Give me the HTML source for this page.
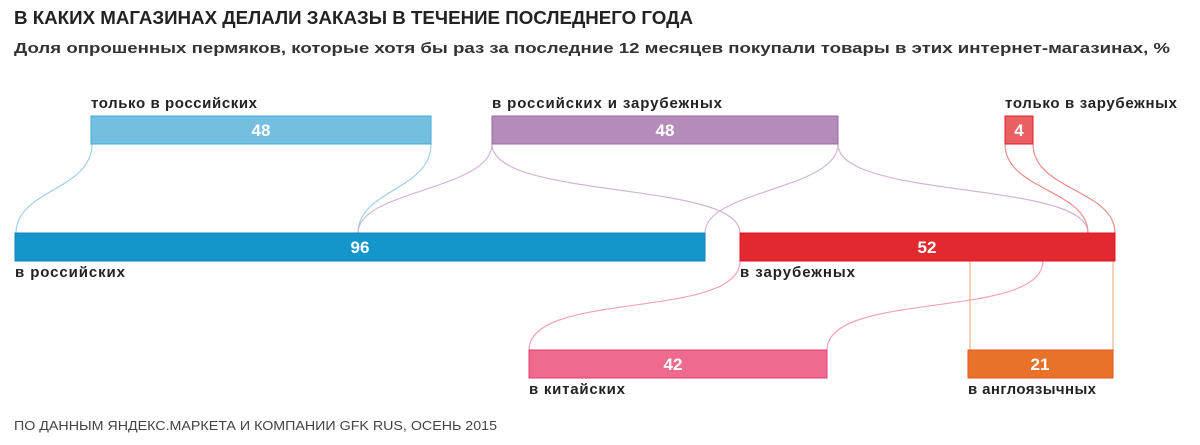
<!DOCTYPE html>
<html><head><meta charset="utf-8"><style>
body{margin:0;width:1200px;height:445px;background:#fff;overflow:hidden;font-family:"Liberation Sans","DejaVu Sans",sans-serif;color:#1a1a1a}
svg{position:absolute;left:0;top:0}
</style></head><body>
<svg width="1200" height="445" xmlns="http://www.w3.org/2000/svg" font-family="Liberation Sans, DejaVu Sans, sans-serif">
<text x="14" y="24" font-size="18" font-weight="bold" fill="#222" textLength="679" lengthAdjust="spacingAndGlyphs">В КАКИХ МАГАЗИНАХ ДЕЛАЛИ ЗАКАЗЫ В ТЕЧЕНИЕ ПОСЛЕДНЕГО ГОДА</text>
<text x="14" y="53" font-size="15" font-weight="bold" fill="#333" textLength="1156" lengthAdjust="spacingAndGlyphs">Доля опрошенных пермяков, которые хотя бы раз за последние 12 месяцев покупали товары в этих интернет-магазинах, %</text>
<g fill="none" stroke-width="1.2">
<path d="M92,144 C92,190 16,190 16,233" stroke="#9fd0e8"/>
<path d="M431,144 C431,190 358,190 358,233" stroke="#9fd0e8"/>
<path d="M492,144 C492,190 358,190 358,233" stroke="#d3b6d6"/>
<path d="M492,144 C492,200 740,180 740,233" stroke="#d3b6d6"/>
<path d="M838,144 C838,190 705,190 705,233" stroke="#d3b6d6"/>
<path d="M838,144 C838,200 1088,180 1088,233" stroke="#d3b6d6"/>
<path d="M1005,144 C1005,190 1088,190 1088,233" stroke="#ef8c8c"/>
<path d="M1033,144 C1033,190 1115,190 1115,233" stroke="#ef8c8c"/>
<path d="M740,261 C740,320 529,290 529,350" stroke="#f2a3b6"/>
<path d="M1043,261 C1043,320 827,290 827,350" stroke="#f2a3b6"/>
<path d="M970,261 L970,350" stroke="#f0b07e"/>
<path d="M1113,261 L1113,350" stroke="#f0b07e"/>
</g>
<rect x="91" y="116" width="340" height="28" fill="#74bfdf" stroke="#3fa8d8"/>
<rect x="492" y="116" width="346" height="28" fill="#b48cba" stroke="#9a6aa3"/>
<rect x="1005" y="116" width="28" height="28" fill="#e95f62" stroke="#e21b2b"/>
<rect x="15" y="233" width="690" height="28" fill="#1496cb" stroke="#0c86bd"/>
<rect x="740" y="233" width="375" height="28" fill="#e1292f" stroke="#e0102a"/>
<rect x="529" y="350" width="298" height="28" fill="#ee6a8e" stroke="#e23f70"/>
<rect x="968" y="350" width="145" height="28" fill="#e8722a" stroke="#e3561f"/>
<g font-size="17" font-weight="bold" fill="#fff" text-anchor="middle">
<text x="261" y="136">48</text><text x="665" y="136">48</text><text x="1019" y="136">4</text>
<text x="360" y="253">96</text><text x="927" y="253">52</text>
<text x="673" y="370">42</text><text x="1040" y="370">21</text>
</g>
<g font-size="15" font-weight="bold" fill="#222" lengthAdjust="spacingAndGlyphs">
<text x="91" y="108" textLength="166">только в российских</text>
<text x="492" y="108" textLength="230">в российских и зарубежных</text>
<text x="1005" y="108" textLength="172">только в зарубежных</text>
<text x="15" y="277" textLength="110">в российских</text>
<text x="740" y="277" textLength="115">в зарубежных</text>
<text x="529" y="394" textLength="96">в китайских</text>
<text x="968" y="394" textLength="128">в англоязычных</text>
</g>
<text x="14" y="430" font-size="12.5" fill="#444" textLength="483" lengthAdjust="spacingAndGlyphs">ПО ДАННЫМ ЯНДЕКС.МАРКЕТА И КОМПАНИИ GFK RUS, ОСЕНЬ 2015</text>
</svg>
</body></html>
